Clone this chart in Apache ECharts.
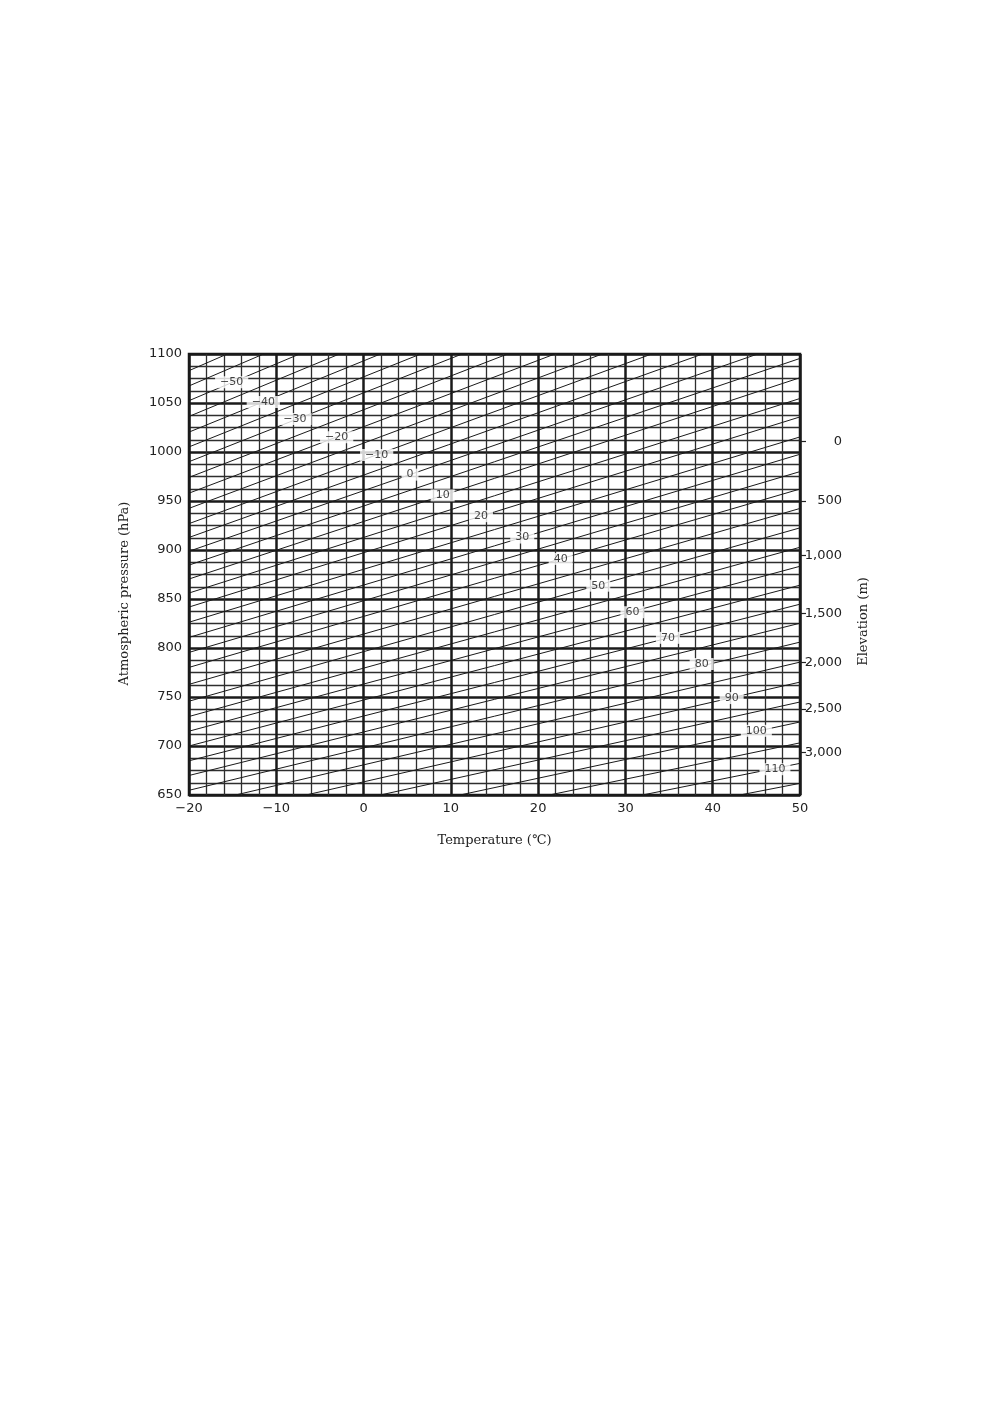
<!DOCTYPE html>
<html><head><meta charset="utf-8">
<script src="https://cdn.jsdelivr.net/npm/echarts@6/dist/echarts.min.js"></script>
<style>html,body{margin:0;padding:0;background:#fff}#c{width:998px;height:1418px}</style>
</head><body><div id="c"></div>
<script>
// Axis ranges
const tempRange = [-20, 50];
const pressureRange = [650, 1100];

// Diagonal correction lines: value, pressure at -20 °C, pressure at 50 °C
const lineValues = [-60,-55,-50,-45,-40,-35,-30,-25,-20,-15,-10,-5,0,5,10,15,20,25,30,35,40,45,50,55,60,65,70,75,80,85,90,95,100,105,110,115];
const lineLeftP  = [1083.0,1067.4,1052.4,1036.3,1020.3,1005.2,990.1,974.1,958.0,942.5,926.9,912.8,898.7,884.6,870.4,856.1,841.8,826.3,810.8,795.5,780.2,762.9,745.7,730.1,715.1,700.0,684.9,669.9,654.8,638.8,622.7,606.7,590.6,573.5,557.0,540.9];
const lineRightP = [1354.7,1334.8,1315.4,1295.1,1274.7,1255.3,1236.0,1215.6,1195.2,1175.4,1155.5,1135.5,1115.0,1095.5,1075.8,1054.6,1035.8,1015.4,997.7,980.0,962.2,942.4,922.6,902.8,883.4,864.1,844.7,825.3,806.0,785.6,765.2,744.9,724.5,703.2,682.3,661.9];

// Line labels
const labelValues = [-50,-40,-30,-20,-10,0,10,20,30,40,50,60,70,80,90,100,110];
const labelT = [-15.11,-11.49,-7.86,-3.08,1.5,5.32,9.06,13.45,18.18,22.58,26.89,30.8,34.87,38.73,42.17,45.0,47.13];
const labelP = [1071.3,1051.0,1033.8,1015.0,996.9,976.9,955.7,934.5,912.7,890.9,863.6,836.5,810.4,783.7,748.9,715.5,676.3];

// Elevation (right) axis
const elevations = [0,500,1000,1500,2000,2500,3000];
const elevationP = [1010.5,950,894.6,835.5,785.4,737.7,693.2];

function fmtMinus(v){ return v < 0 ? '\u2212' + Math.abs(v) : String(v); }
function fmtThousands(v){ return String(v).replace(/\B(?=(\d{3})+(?!\d))/g, ','); }

const tickFont = {fontFamily:'DejaVu Sans', fontSize:13, color:'#222'};
const nameFont = {fontFamily:'DejaVu Serif', fontSize:13, color:'#222'};

const series = lineValues.map((v,i)=>({
  type:'line', name:'L'+v, silent:true, symbol:'none', clip:true, z:3,
  lineStyle:{color:'#1a1a1a', width:1},
  data:[[tempRange[0], lineLeftP[i]],[tempRange[1], lineRightP[i]]]
}));
series.push({
  type:'scatter', silent:true, z:10, symbolSize:1,
  itemStyle:{color:'rgba(0,0,0,0)'},
  label:{show:true, position:'inside', formatter:p=>fmtMinus(p.data[2]),
    fontFamily:'DejaVu Sans', fontSize:11, color:'#111', backgroundColor:'#fff',
    padding:[1,5,0,5], lineHeight:11},
  data: labelValues.map((v,i)=>[labelT[i], labelP[i], v])
});

const chart = echarts.init(document.getElementById('c'), null, {renderer:'canvas'});
chart.setOption({
  animation:false,
  backgroundColor:'#fff',
  grid:{left:189, right:198, top:354, bottom:623, show:true, borderWidth:2.5, borderColor:'#1a1a1a', backgroundColor:'#fff'},
  xAxis:{type:'value', min:tempRange[0], max:tempRange[1], interval:10,
    name:'Temperature (\u2103)', nameLocation:'middle', nameGap:39, nameTextStyle:nameFont,
    axisLine:{show:false}, axisTick:{show:false},
    axisLabel:Object.assign({margin:7, formatter:fmtMinus}, tickFont),
    splitLine:{show:true, lineStyle:{color:'#1a1a1a', width:2.5}},
    minorTick:{show:false, splitNumber:5},
    minorSplitLine:{show:true, lineStyle:{color:'#2e2e2e', width:1.3}}
  },
  yAxis:[{type:'value', min:pressureRange[0], max:pressureRange[1], interval:50,
    name:'Atmospheric pressure (hPa)', nameLocation:'middle', nameGap:58,
    nameTextStyle:Object.assign({padding:[0,38,0,0]}, nameFont),
    axisLine:{show:false}, axisTick:{show:false},
    axisLabel:Object.assign({margin:7, formatter:v=>String(v)}, tickFont),
    splitLine:{show:true, lineStyle:{color:'#1a1a1a', width:2.5}},
    minorTick:{show:false, splitNumber:4},
    minorSplitLine:{show:true, lineStyle:{color:'#2e2e2e', width:1.3}}
  },{type:'value', position:'right', min:pressureRange[0], max:pressureRange[1],
    name:'Elevation (m)', nameLocation:'middle', nameGap:57,
    nameTextStyle:Object.assign({padding:[0,94,0,0]}, nameFont),
    axisLine:{show:false},
    axisTick:{show:true, inside:false, length:6, customValues:elevationP, lineStyle:{color:'#222', width:1.2}},
    axisLabel:Object.assign({margin:42, align:'right', customValues:elevationP,
      formatter:v=>{const i=elevationP.indexOf(v); return i>=0?fmtThousands(elevations[i]):'';}}, tickFont),
    splitLine:{show:false}
  }],
  series:series
});
</script></body></html>
